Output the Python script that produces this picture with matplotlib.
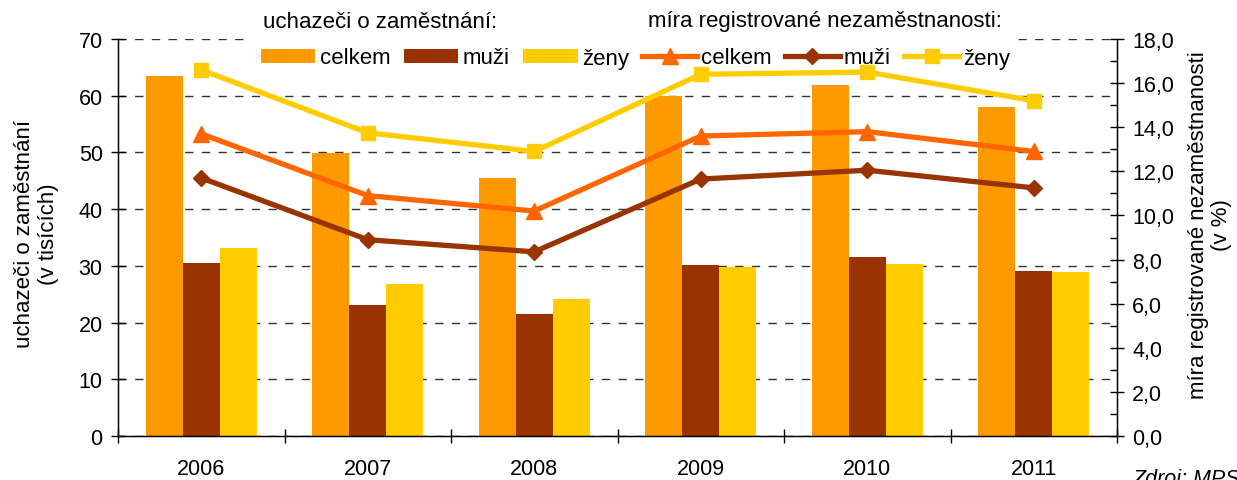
import matplotlib
matplotlib.use("Agg")
import matplotlib.pyplot as plt
import numpy as np
from matplotlib.patches import Rectangle
from matplotlib.ticker import MultipleLocator, FuncFormatter

plt.rcParams['font.family'] = ['Liberation Sans', 'DejaVu Sans']

years = ["2006", "2007", "2008", "2009", "2010", "2011"]
uch_celkem = [63.5, 49.9, 45.5, 59.9, 61.9, 58.0]
uch_muzi = [30.5, 23.1, 21.5, 30.2, 31.6, 29.1]
uch_zeny = [33.2, 26.8, 24.2, 29.8, 30.3, 28.9]
mira_celkem = [13.7, 10.9, 10.2, 13.6, 13.8, 12.9]
mira_muzi = [11.7, 8.9, 8.35, 11.65, 12.05, 11.25]
mira_zeny = [16.6, 13.75, 12.9, 16.4, 16.5, 15.2]

C_BAR_CEL = "#FF9900"
C_MUZI = "#993300"
C_ZENY = "#FFCC00"
C_LINE_CEL = "#FF6600"
FS = 15.5
LFS = 16

W, H = 1237, 481
fig = plt.figure(figsize=(W / 100, H / 100), dpi=100)
ax = fig.add_axes([118/W, 1-437/H, (1117-118)/W, (437-40)/H])
ax2 = ax.twinx()

x = np.arange(len(years))
w = 0.222
ax.bar(x - w, uch_celkem, w, color=C_BAR_CEL, zorder=2, label="celkem")
ax.bar(x, uch_muzi, w, color=C_MUZI, zorder=2, label="muži")
ax.bar(x + w, uch_zeny, w, color=C_ZENY, zorder=2, label="ženy")

ax.set_xlim(-0.5, len(years) - 0.5)
ax.set_ylim(0, 70)
ax.yaxis.set_major_locator(MultipleLocator(10))
ax.grid(axis='y', linestyle=(0, (6, 6)), color='#333333', linewidth=1.0, zorder=0)
ax.set_axisbelow(True)
ax.set_xticks(x)
ax.set_xticklabels(years, fontsize=FS)
ax.set_xticks(np.arange(-0.5, len(years), 1.0), minor=True)
ax.tick_params(axis='x', which='major', length=0, pad=16)
ax.tick_params(axis='x', which='minor', length=10, direction='inout', width=1)
ax.tick_params(axis='y', which='major', length=10, direction='inout', labelsize=FS, width=1, pad=6)
ax.spines['top'].set_visible(False)
for s in ['left', 'bottom', 'right']:
    ax.spines[s].set_color('#000000')
    ax.spines[s].set_linewidth(1.0)

ax2.plot(x, mira_celkem, color=C_LINE_CEL, marker='^', linewidth=3.8, markersize=11, zorder=3, label="celkem")
ax2.plot(x, mira_muzi, color=C_MUZI, marker='D', linewidth=3.8, markersize=8, zorder=3, label="muži")
ax2.plot(x, mira_zeny, color=C_ZENY, marker='s', linewidth=3.8, markersize=10, zorder=3, label="ženy")
ax2.set_ylim(0, 18)
ax2.yaxis.set_major_locator(MultipleLocator(2))
ax2.yaxis.set_minor_locator(MultipleLocator(1))
ax2.yaxis.set_major_formatter(FuncFormatter(lambda v, p: f"{v:.1f}".replace('.', ',')))
ax2.tick_params(axis='y', which='major', length=10, direction='inout', labelsize=FS, width=1, pad=6)
ax2.tick_params(axis='y', which='minor', length=5, direction='in', width=1)
ax2.spines['top'].set_visible(False)
ax2.spines['right'].set_color('#000000')

# axis titles
fig.text(36.5/W, 1-234/H, "uchazeči o zaměstnání\n(v tisících)", fontsize=LFS, rotation=90,
         ha='center', va='center', multialignment='center', linespacing=1.15)
fig.text(1210/W, 1-225/H, "míra registrované nezaměstnanosti\n(v %)", fontsize=LFS, rotation=90,
         ha='center', va='center', multialignment='center', linespacing=1.15)

# white box hiding gridline behind the legend
ax2.add_patch(Rectangle((250/W, 1-70/H), (1015-250)/W, 62/H,
                        transform=fig.transFigure, facecolor='white', edgecolor='none', zorder=2.5))

h1, l1 = ax.get_legend_handles_labels()
h2, l2 = ax2.get_legend_handles_labels()
leg = ax2.legend(h1 + h2, l1 + l2, ncol=6, fontsize=LFS, frameon=False,
                 loc='center left', bbox_to_anchor=(261/W, 1-59/H),
                 bbox_transform=fig.transFigure, handlelength=2.45, handleheight=0.6,
                 handletextpad=0.2, columnspacing=0.6, borderpad=0, borderaxespad=0)
leg.set_zorder(5)

fig.text(263/W, 1-22/H, "uchazeči o zaměstnání:", fontsize=LFS, va='center', ha='left')
fig.text(648/W, 1-22/H, "míra registrované nezaměstnanosti:", fontsize=LFS, va='center', ha='left')
fig.text(1132/W, 1-480/H, "Zdroj: MPSV", fontsize=FS, style='italic', va='center', ha='left')

fig.savefig("out.png", dpi=100)
